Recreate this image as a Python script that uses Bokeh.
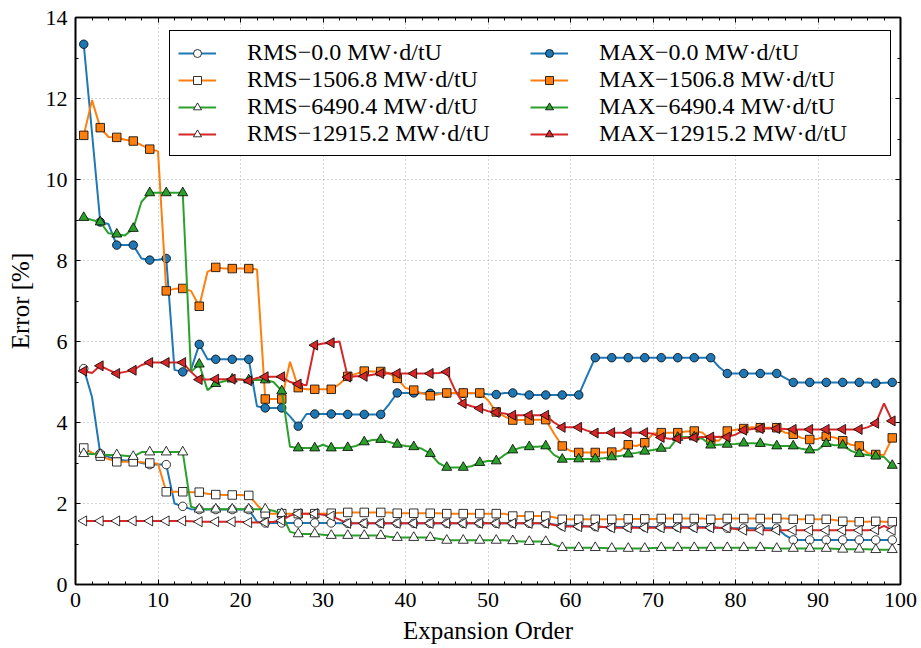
from bokeh.plotting import figure
from bokeh.models import (ColumnDataSource, CDSView, IndexFilter, Legend, LegendItem,
                          LinearAxis, SingleIntervalTicker, Range1d, CustomLabelingPolicy)
from bokeh.embed import file_html
from bokeh.resources import INLINE
import math

# ---------------- data ----------------
orders = list(range(1, 100))

labels = [
    "RMS\u22120.0 MW\u00b7d/tU",
    "RMS\u22121506.8 MW\u00b7d/tU",
    "RMS\u22126490.4 MW\u00b7d/tU",
    "RMS\u221212915.2 MW\u00b7d/tU",
    "MAX\u22120.0 MW\u00b7d/tU",
    "MAX\u22121506.8 MW\u00b7d/tU",
    "MAX\u22126490.4 MW\u00b7d/tU",
    "MAX\u221212915.2 MW\u00b7d/tU",
]

rms_0 = [
    5.33, 4.63, 3.23, 3.15, 3.09, 3.06, 3.06, 3.00, 2.96, 2.96,
    2.96, 2.00, 1.93, 1.86, 1.85, 1.85, 1.85, 1.85, 1.85, 1.85,
    1.85, 1.55, 1.52, 1.52, 1.52, 1.52, 1.52, 1.52, 1.52, 1.52,
    1.52, 1.51, 1.51, 1.51, 1.51, 1.51, 1.51, 1.51, 1.51, 1.51,
    1.51, 1.51, 1.51, 1.51, 1.51, 1.51, 1.51, 1.51, 1.51, 1.51,
    1.51, 1.51, 1.51, 1.51, 1.51, 1.51, 1.51, 1.48, 1.45, 1.45,
    1.45, 1.44, 1.43, 1.42, 1.42, 1.42, 1.42, 1.42, 1.42, 1.42,
    1.42, 1.42, 1.42, 1.42, 1.42, 1.42, 1.42, 1.40, 1.39, 1.39,
    1.39, 1.39, 1.39, 1.39, 1.39, 1.22, 1.10, 1.10, 1.10, 1.10,
    1.10, 1.10, 1.10, 1.10, 1.10, 1.10, 1.10, 1.10, 1.10]

rms_1506 = [
    3.37, 3.25, 3.17, 3.10, 3.03, 3.03, 3.03, 3.02, 3.00, 2.98,
    2.29, 2.29, 2.29, 2.28, 2.28, 2.24, 2.22, 2.21, 2.21, 2.21,
    2.20, 1.97, 1.75, 1.75, 1.75, 1.75, 1.75, 1.75, 1.75, 1.75,
    1.76, 1.77, 1.78, 1.78, 1.78, 1.78, 1.78, 1.78, 1.76, 1.76,
    1.76, 1.76, 1.76, 1.76, 1.75, 1.75, 1.75, 1.75, 1.75, 1.75,
    1.75, 1.75, 1.69, 1.69, 1.69, 1.69, 1.69, 1.66, 1.61, 1.61,
    1.61, 1.61, 1.61, 1.61, 1.61, 1.61, 1.62, 1.62, 1.62, 1.62,
    1.63, 1.63, 1.63, 1.63, 1.63, 1.63, 1.61, 1.62, 1.63, 1.63,
    1.63, 1.63, 1.63, 1.63, 1.63, 1.63, 1.61, 1.61, 1.61, 1.61,
    1.61, 1.59, 1.56, 1.56, 1.55, 1.55, 1.56, 1.55, 1.55]

rms_6490 = [
    3.23, 3.22, 3.21, 3.20, 3.20, 3.18, 3.16, 3.27, 3.27, 3.27,
    3.27, 3.27, 3.27, 1.92, 1.86, 1.86, 1.86, 1.86, 1.86, 1.86,
    1.86, 1.86, 1.86, 1.82, 1.75, 1.30, 1.25, 1.25, 1.25, 1.23,
    1.21, 1.21, 1.21, 1.21, 1.21, 1.21, 1.21, 1.18, 1.16, 1.16,
    1.16, 1.16, 1.16, 1.13, 1.09, 1.09, 1.09, 1.09, 1.09, 1.09,
    1.09, 1.09, 1.08, 1.06, 1.06, 1.06, 1.06, 0.98, 0.91, 0.91,
    0.91, 0.91, 0.91, 0.90, 0.89, 0.89, 0.89, 0.89, 0.89, 0.90,
    0.91, 0.91, 0.91, 0.91, 0.91, 0.91, 0.91, 0.91, 0.91, 0.91,
    0.91, 0.91, 0.91, 0.90, 0.89, 0.89, 0.89, 0.89, 0.89, 0.89,
    0.89, 0.88, 0.87, 0.87, 0.87, 0.87, 0.86, 0.86, 0.86]

rms_12915 = [
    1.57, 1.57, 1.57, 1.57, 1.57, 1.57, 1.57, 1.57, 1.57, 1.57,
    1.57, 1.57, 1.57, 1.56, 1.55, 1.55, 1.55, 1.55, 1.55, 1.55,
    1.53, 1.53, 1.53, 1.55, 1.58, 1.70, 1.75, 1.75, 1.75, 1.72,
    1.69, 1.60, 1.51, 1.51, 1.51, 1.51, 1.51, 1.51, 1.51, 1.51,
    1.51, 1.51, 1.51, 1.51, 1.51, 1.51, 1.51, 1.51, 1.51, 1.51,
    1.51, 1.51, 1.51, 1.51, 1.51, 1.51, 1.51, 1.47, 1.43, 1.43,
    1.43, 1.43, 1.43, 1.42, 1.40, 1.40, 1.40, 1.40, 1.40, 1.40,
    1.40, 1.40, 1.40, 1.40, 1.40, 1.40, 1.40, 1.40, 1.40, 1.37,
    1.34, 1.34, 1.34, 1.34, 1.34, 1.34, 1.34, 1.34, 1.34, 1.34,
    1.34, 1.34, 1.34, 1.34, 1.34, 1.34, 1.35, 1.45, 1.34]

max_0 = [
    13.34, 11.15, 8.95, 8.90, 8.38, 8.38, 8.38, 8.05, 8.01, 8.02,
    8.05, 5.30, 5.25, 5.30, 5.93, 5.56, 5.56, 5.56, 5.56, 5.56,
    5.56, 4.40, 4.36, 4.36, 4.36, 4.15, 3.91, 4.21, 4.21, 4.21,
    4.21, 4.21, 4.20, 4.20, 4.20, 4.20, 4.20, 4.45, 4.73, 4.73,
    4.73, 4.72, 4.72, 4.72, 4.72, 4.72, 4.72, 4.72, 4.72, 4.70,
    4.69, 4.73, 4.73, 4.70, 4.68, 4.68, 4.68, 4.68, 4.68, 4.68,
    4.68, 5.15, 5.60, 5.60, 5.60, 5.60, 5.60, 5.60, 5.60, 5.60,
    5.60, 5.60, 5.60, 5.60, 5.60, 5.60, 5.60, 5.37, 5.21, 5.21,
    5.21, 5.21, 5.21, 5.21, 5.21, 5.10, 4.99, 4.99, 4.99, 4.99,
    4.99, 4.99, 4.99, 4.99, 4.99, 4.99, 4.97, 4.98, 4.99]

max_1506 = [
    11.09, 11.96, 11.28, 11.05, 11.04, 10.98, 10.95, 10.85, 10.75, 10.70,
    7.25, 7.30, 7.31, 7.25, 6.87, 7.72, 7.83, 7.80, 7.80, 7.80,
    7.80, 7.78, 4.58, 4.58, 4.58, 5.50, 4.86, 4.82, 4.82, 4.82,
    4.82, 4.95, 5.14, 5.20, 5.27, 5.26, 5.26, 5.22, 5.09, 4.85,
    4.80, 4.72, 4.66, 4.70, 4.73, 4.73, 4.73, 4.73, 4.73, 4.55,
    4.26, 4.15, 4.06, 4.06, 4.06, 4.07, 4.07, 3.73, 3.42, 3.30,
    3.26, 3.26, 3.26, 3.26, 3.27, 3.30, 3.45, 3.42, 3.50, 3.72,
    3.75, 3.75, 3.75, 3.78, 3.79, 3.75, 3.56, 3.55, 3.79, 3.82,
    3.85, 3.88, 3.87, 3.87, 3.87, 3.75, 3.71, 3.62, 3.58, 3.60,
    3.66, 3.63, 3.55, 3.45, 3.42, 3.25, 3.21, 3.20, 3.62]

max_6490 = [
    9.06, 9.00, 8.95, 8.67, 8.65, 8.62, 8.79, 9.45, 9.67, 9.67,
    9.67, 9.67, 9.67, 5.25, 5.44, 4.80, 4.96, 5.02, 5.07, 5.06,
    5.05, 5.05, 5.05, 5.00, 4.78, 3.40, 3.37, 3.37, 3.37, 3.45,
    3.37, 3.37, 3.38, 3.42, 3.52, 3.57, 3.58, 3.52, 3.46, 3.42,
    3.40, 3.35, 3.23, 3.00, 2.89, 2.89, 2.89, 2.92, 3.01, 3.05,
    3.05, 3.20, 3.32, 3.38, 3.40, 3.40, 3.42, 3.20, 3.09, 3.10,
    3.10, 3.10, 3.10, 3.12, 3.15, 3.17, 3.22, 3.25, 3.29, 3.32,
    3.36, 3.37, 3.63, 3.64, 3.64, 3.60, 3.44, 3.45, 3.46, 3.47,
    3.49, 3.49, 3.48, 3.45, 3.42, 3.42, 3.42, 3.35, 3.32, 3.33,
    3.48, 3.44, 3.44, 3.30, 3.23, 3.20, 3.17, 3.15, 2.94]

max_12915 = [
    5.27, 5.22, 5.40, 5.30, 5.21, 5.25, 5.29, 5.42, 5.48, 5.48,
    5.48, 5.48, 5.48, 5.25, 5.06, 5.06, 5.07, 5.07, 5.07, 5.06,
    5.03, 5.10, 5.13, 5.13, 5.13, 5.00, 4.95, 4.92, 5.91, 5.95,
    5.97, 6.00, 5.12, 5.14, 5.14, 5.18, 5.21, 5.21, 5.21, 5.21,
    5.21, 5.21, 5.21, 5.22, 5.25, 4.80, 4.47, 4.40, 4.35, 4.28,
    4.25, 4.22, 4.18, 4.18, 4.18, 4.18, 4.18, 4.00, 3.88, 3.88,
    3.88, 3.80, 3.74, 3.74, 3.75, 3.75, 3.75, 3.75, 3.75, 3.72,
    3.63, 3.60, 3.60, 3.62, 3.63, 3.64, 3.64, 3.65, 3.64, 3.70,
    3.81, 3.84, 3.85, 3.85, 3.85, 3.84, 3.83, 3.83, 3.83, 3.83,
    3.83, 3.83, 3.83, 3.83, 3.83, 3.88, 3.98, 4.47, 4.04]

x_ticks_interval = 10
y_ticks_interval = 2

# ---------------- figure ----------------
FONT = "'Liberation Serif', serif"
TAB = ["#1f77b4", "#ff7f0e", "#2ca02c", "#d62728"]

source = ColumnDataSource(data=dict(
    order=orders, rms_0=rms_0, rms_1506=rms_1506, rms_6490=rms_6490, rms_12915=rms_12915,
    max_0=max_0, max_1506=max_1506, max_6490=max_6490, max_12915=max_12915))
marker_view = CDSView(filter=IndexFilter(list(range(0, len(orders), 2))))

p = figure(width=921, height=648, x_range=Range1d(0, 100), y_range=Range1d(0, 14),
           output_backend="svg", toolbar_location=None,
           min_border_left=75, min_border_right=21, min_border_top=17, min_border_bottom=64,
           x_axis_label="Expansion Order", y_axis_label="Error [%]")
p.background_fill_color = "white"
p.border_fill_color = "white"
p.outline_line_color = "black"
p.outline_line_width = 1.6

xt = SingleIntervalTicker(interval=x_ticks_interval, num_minor_ticks=5)
yt = SingleIntervalTicker(interval=y_ticks_interval, num_minor_ticks=2)
p.xaxis.ticker = xt
p.yaxis.ticker = yt
p.xgrid.ticker = xt
p.ygrid.ticker = yt
for g in (p.xgrid, p.ygrid):
    g.grid_line_color = "#a8a8a8"
    g.grid_line_dash = "1 3"
    g.grid_line_width = 1


def style_axis(ax, show_labels=True):
    ax.axis_line_color = "black"
    ax.axis_line_width = 1.6
    ax.major_tick_in = 5
    ax.major_tick_out = 0
    ax.minor_tick_in = 3
    ax.minor_tick_out = 0
    ax.major_tick_line_color = "black"
    ax.minor_tick_line_color = "black"
    ax.major_tick_line_width = 1
    ax.minor_tick_line_width = 1
    if show_labels:
        ax.major_label_text_font = FONT
        ax.major_label_text_font_size = "22px"
        ax.major_label_text_color = "black"
        ax.major_label_standoff = 8
        ax.axis_label_text_font = FONT
        ax.axis_label_text_font_size = "25px"
        ax.axis_label_text_font_style = "normal"
        ax.axis_label_text_color = "black"
    else:
        ax.major_label_policy = CustomLabelingPolicy(
            code="return new indices.constructor(indices.size)")
        ax.major_label_standoff = 0


style_axis(p.xaxis[0])
style_axis(p.yaxis[0])
p.xaxis[0].axis_label_standoff = 7
p.yaxis[0].axis_label_standoff = 9

top_ax = LinearAxis(ticker=xt)
right_ax = LinearAxis(ticker=yt)
style_axis(top_ax, False)
style_axis(right_ax, False)
p.add_layout(top_ax, "above")
p.add_layout(right_ax, "right")

series = [
    ("rms_0", TAB[0], "circle", 0.0, False, 8.5),
    ("rms_1506", TAB[1], "square", 0.0, False, 8.5),
    ("rms_6490", TAB[2], "triangle", 0.0, False, 10),
    ("rms_12915", TAB[3], "triangle", math.pi / 2, False, 10),
    ("max_0", TAB[0], "circle", 0.0, True, 8.5),
    ("max_1506", TAB[1], "square", 0.0, True, 8.5),
    ("max_6490", TAB[2], "triangle", 0.0, True, 10),
    ("max_12915", TAB[3], "triangle", math.pi / 2, True, 10),
]

items = []
for (col, color, marker, ang, filled, size), lab in zip(series, labels):
    lr = p.line(x="order", y=col, source=source, line_color=color, line_width=2)
    sr = p.scatter(x="order", y=col, source=source, view=marker_view, marker=marker,
                   angle=ang, size=size, fill_color=color if filled else "white",
                   line_color="black", line_width=0.8)
    items.append(LegendItem(label=lab, renderers=[lr, sr]))

legend = Legend(items=items, location=(94, 428), orientation="vertical", nrows=4,
                label_text_font=FONT, label_text_font_size="24px", label_text_color="black",
                glyph_width=38, glyph_height=20, label_standoff=31, label_width=283,
                label_height=20, spacing=0, padding=8, margin=0,
                border_line_color="black", border_line_width=1.5, border_line_alpha=1,
                background_fill_color="white", background_fill_alpha=1)
p.add_layout(legend)

open("out.html", "w").write(file_html(p, INLINE))
